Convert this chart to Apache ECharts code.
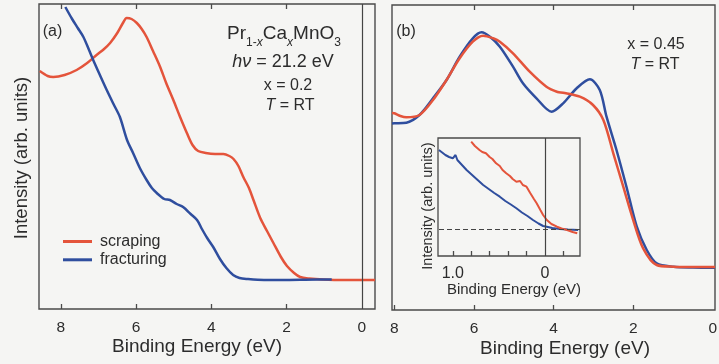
<!DOCTYPE html>
<html><head><meta charset="utf-8">
<script src="https://cdn.jsdelivr.net/npm/echarts@6/dist/echarts.min.js"></script>
<style>html,body{margin:0;padding:0;background:#f5f5f3}#c{width:719px;height:364px}</style>
</head><body><div id="c"></div>
<script>
// ---- data (x = binding energy in eV, y = intensity, arb. units) ----
const scrapingA = [[8.56,238],[8.35,233],[8.20,232],[7.90,234],[7.58,239],[7.30,246],[7.05,254],[6.85,260],[6.69,266],[6.50,276],[6.35,286],[6.25,291],[6.12,290],[5.98,286],[5.85,280],[5.72,272],[5.55,258],[5.36,242],[5.20,226],[5.01,209],[4.83,192],[4.65,176],[4.50,164],[4.35,158],[4.15,156],[3.90,155],[3.68,155],[3.52,153],[3.41,150],[3.28,143],[3.15,132],[3.00,121],[2.88,109],[2.70,91],[2.52,78],[2.35,66],[2.15,52],[1.99,43],[1.80,36],[1.64,32],[1.40,30.5],[1.02,29.5],[0.5,29],[0,29],[-0.35,29]];
const fracturingA = [[7.88,302],[7.70,290],[7.55,281],[7.40,272],[7.25,259],[7.14,249],[6.95,233],[6.78,219],[6.60,205],[6.43,192],[6.24,169],[6.08,156],[5.90,141],[5.72,129],[5.58,121],[5.45,116],[5.25,110],[5.10,109],[4.92,105],[4.75,102],[4.55,95],[4.38,89],[4.25,80],[4.11,71],[3.95,62],[3.77,50],[3.60,41],[3.42,34],[3.25,31],[3.05,30],[2.60,29],[2.10,29],[1.19,29.5],[0.8,29.5]];
const scrapingB = [[8.06,197],[8.0,196.7],[7.85,194],[7.70,192.7],[7.37,195],[7.03,210],[6.69,230],[6.36,251.7],[6.03,268.3],[5.77,274.3],[5.52,271.7],[5.35,268.3],[5.02,256.7],[4.60,238.3],[4.18,223.3],[3.90,218],[3.76,217.3],[3.34,213.3],[3.01,205],[2.75,190],[2.50,156.7],[2.25,123.3],[2.0,90],[1.75,61.7],[1.41,45],[0.99,43.3],[0.5,43],[-0.055,43]];
const fracturingB = [[8.06,186.5],[8.0,186.7],[7.70,187.3],[7.37,195],[7.03,211.7],[6.69,230],[6.36,253.3],[6.03,271.7],[5.81,277.7],[5.60,273.3],[5.35,263.3],[5.02,243.3],[4.77,226.7],[4.43,211.7],[4.05,198.3],[3.76,206.7],[3.42,221.7],[3.09,230.7],[2.84,220],[2.67,193.3],[2.42,160],[2.17,123.3],[1.91,83.3],[1.66,60],[1.41,46.7],[0.99,43.3],[0.5,42.5],[-0.055,42.3]];
const scrapingInset = [[0.80,114.3],[0.76,110],[0.74,111],[0.71,106],[0.68,104],[0.64,102.7],[0.60,99],[0.57,97],[0.53,92.7],[0.49,90],[0.46,86],[0.42,82.7],[0.38,80],[0.35,77],[0.31,74.3],[0.27,75],[0.24,71],[0.20,69.3],[0.16,63],[0.12,57],[0.09,52.7],[0.05,46],[0.02,41],[-0.02,36],[-0.07,32],[-0.13,29.3],[-0.18,27.5],[-0.24,26],[-0.30,24],[-0.35,22.7]];
const fracturingInset = [[1.15,106],[1.13,104.3],[1.08,101],[1.04,99],[1.0,97.7],[0.97,101],[0.95,96],[0.90,91],[0.85,86],[0.79,81],[0.73,76],[0.67,71],[0.61,67],[0.55,63],[0.49,59.3],[0.43,55],[0.37,51.5],[0.31,47.7],[0.25,43.5],[0.19,40],[0.13,36],[0.07,32.5],[0.02,30],[-0.02,29.3],[-0.08,28],[-0.16,27],[-0.25,26.5],[-0.36,26]];
const ticksA = [8,6,4,2];
const labelsA = [8,6,4,2,0];
const topTicksB = [6,4,2];
const ticksInset = [1.0,0.8,0.6,0.4,0.2,-0.2];
const labelsInset = [1.0,0];
const fermiLevel = 0;
const insetBaseline = 26.7;

const FONT = "'Liberation Sans', Arial, sans-serif";
const TXT = '#2c2c2c';
const RED = '#e4543b', BLUE = '#2f4e9e';
const FRAME = '#4a4a4a';

function xAx(grid, min, max, pos, ticks, labels, fmt, fs, margin) {
  return {
    type: 'value', gridIndex: grid, min: min, max: max, inverse: true, position: pos,
    axisLine: {show: false},
    splitLine: {show: false},
    axisTick: {show: true, inside: true, length: 5, customValues: ticks, lineStyle: {color: FRAME, width: 1.3}},
    axisLabel: labels ? {show: true, customValues: labels, margin: margin, fontSize: fs, color: TXT, fontFamily: FONT,
      showMinLabel: true, showMaxLabel: true, formatter: fmt || (v => String(v))} : {show: false}
  };
}
function yAx(grid, max) {
  return {type: 'value', gridIndex: grid, min: 0, max: max, show: true,
    axisLine: {show: false}, axisTick: {show: false}, axisLabel: {show: false}, splitLine: {show: false}};
}
const gridBase = {show: true, borderColor: FRAME, borderWidth: 1.4, backgroundColor: 'transparent', containLabel: false, outerBoundsMode: 'none'};
const line = (name, data, color, xi, yi, smooth, w) => ({
  name: name, type: 'line', xAxisIndex: xi, yAxisIndex: yi, data: data, showSymbol: false, symbol: 'none',
  smooth: smooth, lineStyle: {color: color, width: w}, itemStyle: {color: color}, animation: false, z: 3
});
function txt(x, y, text, fs, extra) {
  return Object.assign({type: 'text', x: x, y: y, silent: true,
    style: {text: text, fontSize: fs, fontFamily: FONT, fill: TXT, align: 'center', verticalAlign: 'middle'}}, extra || {});
}

const chart = echarts.init(document.getElementById('c'), null, {renderer: 'canvas'});
const s0 = line('scraping', scrapingA, RED, 0, 0, 0.3, 2.5);
s0.markLine = {silent: true, symbol: 'none', label: {show: false}, animation: false,
  lineStyle: {color: '#444', width: 1.2, type: 'solid'}, data: [{xAxis: fermiLevel}]};
const sIn = line('scraping inset', scrapingInset, RED, 4, 2, false, 2);
sIn.markLine = {silent: true, symbol: 'none', label: {show: false}, animation: false,
  data: [{xAxis: fermiLevel, lineStyle: {color: '#444', width: 1.2, type: 'solid'}},
         {yAxis: insetBaseline, lineStyle: {color: '#444', width: 1.2, type: [5, 3]}}]};

chart.setOption({
  backgroundColor: '#f5f5f3',
  animation: false,
  grid: [
    Object.assign({left: 39, top: 4, width: 336, height: 305}, gridBase),
    Object.assign({left: 392, top: 5, width: 323, height: 305}, gridBase),
    Object.assign({left: 438, top: 138, width: 142, height: 118}, gridBase, {borderWidth: 1.3})
  ],
  xAxis: [
    xAx(0, -0.35, 8.58, 'bottom', ticksA, labelsA, null, 15.5, 11),
    xAx(0, -0.35, 8.58, 'top', ticksA, null),
    xAx(1, -0.055, 8.06, 'bottom', ticksA, labelsA, null, 15.5, 11),
    xAx(1, -0.055, 8.06, 'top', topTicksB, null),
    xAx(2, -0.38, 1.16, 'bottom', ticksInset, labelsInset, v => (v === 1 ? '1.0' : String(v)), 16, 10)
  ],
  yAxis: [yAx(0, 305), yAx(1, 305), yAx(2, 118)],
  legend: {
    data: ['scraping', 'fracturing'], orient: 'vertical', left: 63, top: 233.5,
    itemWidth: 29, itemHeight: 3, icon: 'rect', itemGap: 2.3, padding: 0,
    textStyle: {fontSize: 16, color: TXT, fontFamily: FONT, padding: [0, 0, 0, 3]}
  },
  series: [
    s0,
    line('fracturing', fracturingA, BLUE, 0, 0, 0.3, 2.5),
    line('fracturing (b)', fracturingB, BLUE, 2, 1, 0.3, 2.5),
    line('scraping (b)', scrapingB, RED, 2, 1, 0.3, 2.5),
    line('fracturing inset', fracturingInset, BLUE, 4, 2, false, 2),
    sIn
  ],
  graphic: [
    txt(52.5, 32, '(a)', 16),
    txt(406, 32, '(b)', 16),
    {type: 'text', x: 284, y: 34, silent: true, style: {
      text: 'Pr{s|1-}{si|x}Ca{si|x}MnO{s|3}', fontSize: 19, fontFamily: FONT, fill: TXT,
      align: 'center', verticalAlign: 'middle',
      rich: {
        s: {fontSize: 12, fontFamily: FONT, fill: TXT, lineHeight: 12, verticalAlign: 'top', padding: [12, 0, 0, 0]},
        si: {fontSize: 12, fontStyle: 'italic', fontFamily: FONT, fill: TXT, lineHeight: 12, verticalAlign: 'top', padding: [12, 0, 0, 0]}
      }
    }},
    {type: 'text', x: 283, y: 62, silent: true, style: {
      text: '{i|hν} = 21.2 eV', fontSize: 18, fontFamily: FONT, fill: TXT, align: 'center', verticalAlign: 'middle',
      rich: {i: {fontSize: 18, fontStyle: 'italic', fontFamily: FONT, fill: TXT}}
    }},
    txt(288, 86, 'x = 0.2', 16),
    {type: 'text', x: 290, y: 106, silent: true, style: {
      text: '{i|T} = RT', fontSize: 16, fontFamily: FONT, fill: TXT, align: 'center', verticalAlign: 'middle',
      rich: {i: {fontSize: 16, fontStyle: 'italic', fontFamily: FONT, fill: TXT}}
    }},
    txt(656, 45, 'x = 0.45', 16),
    {type: 'text', x: 655, y: 65, silent: true, style: {
      text: '{i|T} = RT', fontSize: 16, fontFamily: FONT, fill: TXT, align: 'center', verticalAlign: 'middle',
      rich: {i: {fontSize: 16, fontStyle: 'italic', fontFamily: FONT, fill: TXT}}
    }},
    txt(22, 158, 'Intensity (arb. units)', 18.5, {rotation: Math.PI / 2}),
    txt(197, 347, 'Binding Energy (eV)', 19),
    txt(565, 349, 'Binding Energy (eV)', 19),
    txt(428, 206, 'Intensity (arb. units)', 14.5, {rotation: Math.PI / 2}),
    txt(514, 290, 'Binding Energy (eV)', 15)
  ]
});
</script></body></html>
